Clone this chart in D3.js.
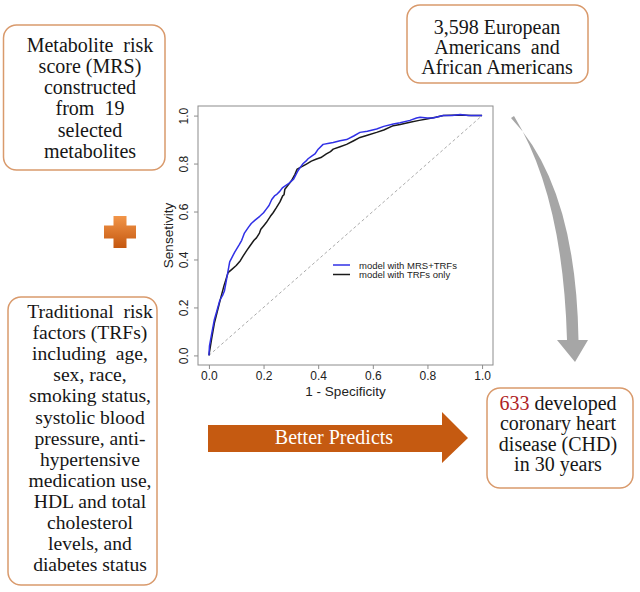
<!DOCTYPE html>
<html>
<head>
<meta charset="utf-8">
<script src="https://cdn.jsdelivr.net/npm/d3@7"></script>
<style>
  html, body { margin: 0; padding: 0; background: #fff; }
  svg { display: block; }
</style>
</head>
<body>
<svg id="chart" width="640" height="592"></svg>
<script>
// ---- Data ----
const seriesNames = ["model with MRS+TRFs", "model with TRFs only"];
const seriesColors = ["#3030e6", "#1a1a1a"];

// ROC curve for model with MRS + TRFs: [1 - specificity, sensitivity]
const rocMRS = [
  [0,0],[0.002,0.04],[0.01,0.09],[0.02,0.15],[0.03,0.19],[0.04,0.23],[0.05,0.25],[0.057,0.27],
  [0.065,0.32],[0.076,0.39],[0.085,0.41],[0.094,0.43],[0.11,0.46],[0.12,0.48],[0.13,0.51],
  [0.145,0.535],[0.155,0.55],[0.17,0.565],[0.186,0.58],[0.2,0.595],[0.21,0.61],[0.22,0.625],
  [0.23,0.65],[0.24,0.665],[0.247,0.67],[0.26,0.685],[0.27,0.70],[0.29,0.715],[0.31,0.735],
  [0.326,0.77],[0.335,0.785],[0.345,0.80],[0.355,0.81],[0.363,0.82],[0.375,0.83],[0.388,0.84],
  [0.40,0.86],[0.418,0.88],[0.44,0.885],[0.455,0.888],[0.48,0.895],[0.504,0.90],[0.53,0.915],
  [0.553,0.93],[0.58,0.935],[0.614,0.944],[0.64,0.955],[0.675,0.965],[0.70,0.97],[0.736,0.98],
  [0.76,0.99],[0.773,0.993],[0.80,0.99],[0.82,0.99],[0.858,1.0],[0.89,1.0],[0.92,1.005],
  [0.95,1.0],[1,1]
];

// ROC curve for model with TRFs only
const rocTRF = [
  [0,0],[0.01,0.07],[0.02,0.135],[0.03,0.18],[0.045,0.247],[0.055,0.29],[0.07,0.345],
  [0.085,0.36],[0.1,0.375],[0.115,0.395],[0.125,0.414],[0.14,0.44],[0.15,0.456],[0.165,0.48],
  [0.174,0.49],[0.185,0.51],[0.19,0.526],[0.2,0.54],[0.21,0.554],[0.225,0.58],[0.235,0.595],
  [0.247,0.616],[0.26,0.64],[0.27,0.665],[0.275,0.67],[0.278,0.693],[0.29,0.71],[0.302,0.728],
  [0.315,0.755],[0.323,0.777],[0.34,0.787],[0.357,0.798],[0.375,0.81],[0.394,0.819],[0.41,0.825],
  [0.43,0.84],[0.445,0.85],[0.455,0.86],[0.48,0.87],[0.504,0.88],[0.53,0.895],[0.553,0.909],
  [0.58,0.918],[0.614,0.93],[0.64,0.94],[0.675,0.958],[0.70,0.963],[0.736,0.972],[0.77,0.98],
  [0.797,0.986],[0.83,0.993],[0.858,1.0],[0.92,1.002],[0.96,1.0],[1,1]
];

const tickValues = [0, 0.2, 0.4, 0.6, 0.8, 1.0];
const xTitle = "1 - Specificity";
const yTitle = "Sensetivity";

// Text boxes
const boxMRS = ["Metabolite  risk", "score (MRS)", "constructed", "from  19", "selected", "metabolites"];
const boxPop = ["3,598 European", "Americans  and", "African Americans"];
const boxCHD = [["633", " developed"], ["coronary heart"], ["disease (CHD)"], ["in 30 years"]];
const boxTRF = ["Traditional  risk", "factors (TRFs)", "including  age,", "sex, race,", "smoking status,",
  "systolic blood", "pressure, anti-", "hypertensive", "medication use,", "HDL and total",
  "cholesterol", "levels, and", "diabetes status"];
const arrowLabel = "Better Predicts";

// ---- Drawing ----
const svg = d3.select("#chart");
const serif = "'Liberation Serif', 'Times New Roman', serif";
const sans = "'Liberation Sans', Arial, sans-serif";
const boxStroke = "#d99a6c";
const textCol = "#161616";

const defs = svg.append("defs");
const g1 = defs.append("linearGradient").attr("id", "plusGrad").attr("x1", 0).attr("y1", 0).attr("x2", 0).attr("y2", 1);
g1.append("stop").attr("offset", "0%").attr("stop-color", "#f29548");
g1.append("stop").attr("offset", "100%").attr("stop-color", "#c4570f");

// Plot
const x = d3.scaleLinear().domain([-0.04, 1.04]).range([198, 493]);
const y = d3.scaleLinear().domain([-0.04, 1.04]).range([365, 106]);

svg.append("rect").attr("x", 198).attr("y", 106).attr("width", 295).attr("height", 259)
  .attr("fill", "#fff").attr("stroke", "#8c8c8c").attr("stroke-width", 1);

// diagonal reference
svg.append("line").attr("x1", x(0)).attr("y1", y(0)).attr("x2", x(1)).attr("y2", y(1))
  .attr("stroke", "#a0a0a0").attr("stroke-width", 0.9).attr("stroke-dasharray", "3,2.5");

const line = d3.line().x(d => x(d[0])).y(d => y(d[1]));
svg.append("path").datum(rocTRF).attr("d", line).attr("fill", "none")
  .attr("stroke", seriesColors[1]).attr("stroke-width", 1.5).attr("stroke-linejoin", "round");
svg.append("path").datum(rocMRS).attr("d", line).attr("fill", "none")
  .attr("stroke", seriesColors[0]).attr("stroke-width", 1.5).attr("stroke-linejoin", "round");

// axes
const xAxis = svg.append("g").attr("transform", "translate(0,365)")
  .call(d3.axisBottom(x).tickValues(tickValues).tickFormat(d3.format(".1f")).tickSize(4));
xAxis.select(".domain").remove();
xAxis.selectAll("line").attr("stroke", "#8c8c8c");
xAxis.selectAll("text").attr("y", 14.5).attr("dy", 0).attr("fill", "#222")
  .style("font-family", sans).style("font-size", "12px");

const yAxis = svg.append("g").attr("transform", "translate(198,0)")
  .call(d3.axisLeft(y).tickValues(tickValues).tickFormat(d3.format(".1f")).tickSize(4));
yAxis.select(".domain").remove();
yAxis.selectAll("line").attr("stroke", "#8c8c8c");
yAxis.selectAll("text").attr("transform", "rotate(-90)").attr("x", 0).attr("y", -10).attr("dy", 0)
  .attr("text-anchor", "middle").attr("fill", "#222")
  .style("font-family", sans).style("font-size", "12px");

svg.append("text").attr("x", 345.5).attr("y", 396).attr("text-anchor", "middle")
  .style("font-family", sans).style("font-size", "13.5px").attr("fill", "#222").text(xTitle);
svg.append("text").attr("transform", "translate(173,235.5) rotate(-90)").attr("text-anchor", "middle")
  .style("font-family", sans).style("font-size", "13.5px").attr("fill", "#222").text(yTitle);

// legend
const leg = svg.append("g");
seriesNames.forEach((name, i) => {
  const ly = 265 + i * 9.5;
  leg.append("line").attr("x1", 333).attr("x2", 350).attr("y1", ly).attr("y2", ly)
    .attr("stroke", seriesColors[i]).attr("stroke-width", 1.5);
  leg.append("text").attr("x", 359).attr("y", ly + 3.5)
    .style("font-family", sans).style("font-size", "9.5px").attr("fill", "#222").text(name);
});

// Boxes
function box(x0, y0, w, h) {
  svg.append("rect").attr("x", x0).attr("y", y0).attr("width", w).attr("height", h).attr("rx", 13)
    .attr("fill", "#fff").attr("stroke", boxStroke).attr("stroke-width", 1.5);
}
function lines(arr, cx, y0, lh, size) {
  arr.forEach((t, i) => {
    svg.append("text").attr("x", cx).attr("y", y0 + i * lh).attr("text-anchor", "middle")
      .attr("xml:space", "preserve")
      .style("font-family", serif).style("font-size", size + "px").attr("fill", textCol).text(t);
  });
}

box(3.5, 25, 161.5, 145);
lines(boxMRS, 90, 51.5, 21.3, 20);

box(407, 5, 181, 78);
lines(boxPop, 497, 33.5, 20.4, 20);

box(487, 388, 146, 100);
boxCHD.forEach((parts, i) => {
  const t = svg.append("text").attr("x", 558).attr("y", 409.5 + i * 20.5).attr("text-anchor", "middle")
    .attr("xml:space", "preserve")
    .style("font-family", serif).style("font-size", "20px").attr("fill", textCol);
  parts.forEach((p, j) => {
    t.append("tspan").attr("fill", (i === 0 && j === 0) ? "#b01e24" : textCol).text(p);
  });
});

box(8, 297, 149, 288);
lines(boxTRF, 90, 318, 21.1, 19.6);

// Plus sign
const pcx = 120, pcy = 232, L = 16, T = 6.5;
svg.append("path")
  .attr("d", `M${pcx - T},${pcy - L} H${pcx + T} V${pcy - T} H${pcx + L} V${pcy + T} H${pcx + T} V${pcy + L} H${pcx - T} V${pcy + T} H${pcx - L} V${pcy - T} H${pcx - T} Z`)
  .attr("fill", "url(#plusGrad)");

// Orange arrow
svg.append("path")
  .attr("d", "M208,425 L442,425 L442,412 L468,438 L442,463 L442,452 L208,452 Z")
  .attr("fill", "#c55a11");
svg.append("text").attr("x", 334).attr("y", 444).attr("text-anchor", "middle")
  .style("font-family", serif).style("font-size", "20px").attr("fill", "#fff").text(arrowLabel);

// Grey curved arrow
svg.append("path")
  .attr("d", "M511,118 Q576,186 578.5,340 L588,340 L575,362 L557,340 L567,340 Q563,196 514,116 Z")
  .attr("fill", "#a6a6a6");
</script>
</body>
</html>
